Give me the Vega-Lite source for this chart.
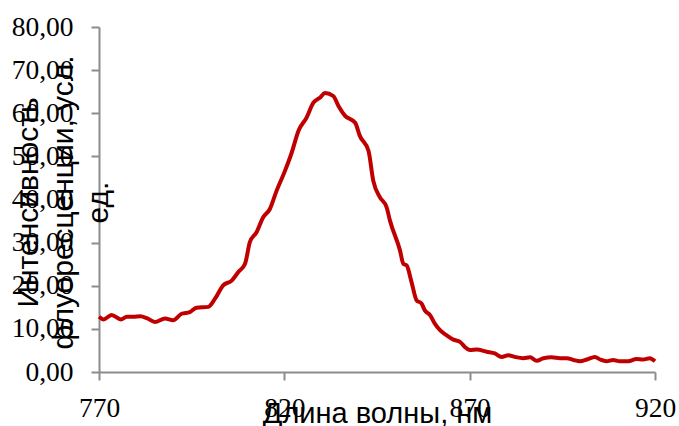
{
  "$schema": "https://vega.github.io/schema/vega-lite/v6.json",
  "width": 556,
  "height": 345,
  "autosize": {"type": "none"},
  "padding": {"left": 99, "top": 27, "right": 24, "bottom": 54},
  "background": "white",
  "config": {"view": {"stroke": null}},
  "data": {"values": [
    {"wl": 770, "int": 12.8}, {"wl": 771.2, "int": 12.2}, {"wl": 773.4, "int": 13.2}, {"wl": 775.9, "int": 12.2},
    {"wl": 777.5, "int": 12.8}, {"wl": 779.3, "int": 12.8}, {"wl": 781.1, "int": 12.9}, {"wl": 782.9, "int": 12.5},
    {"wl": 785.1, "int": 11.6}, {"wl": 787.8, "int": 12.4}, {"wl": 790, "int": 12.0}, {"wl": 792.3, "int": 13.5},
    {"wl": 794.5, "int": 13.9}, {"wl": 796.3, "int": 14.9}, {"wl": 799.5, "int": 15.1}, {"wl": 801.3, "int": 17.0},
    {"wl": 803.5, "int": 20.1}, {"wl": 805.8, "int": 21.2}, {"wl": 807.6, "int": 23.2}, {"wl": 809.4, "int": 25.1},
    {"wl": 810.7, "int": 30.1}, {"wl": 812.5, "int": 32.4}, {"wl": 814.3, "int": 35.9}, {"wl": 816.1, "int": 37.8},
    {"wl": 817.9, "int": 42.0}, {"wl": 820.2, "int": 46.7}, {"wl": 822, "int": 50.9}, {"wl": 823.8, "int": 55.9},
    {"wl": 826, "int": 59.0}, {"wl": 827.8, "int": 62.4}, {"wl": 829.6, "int": 63.6}, {"wl": 831, "int": 64.7},
    {"wl": 833.2, "int": 64.0}, {"wl": 834.6, "int": 61.7}, {"wl": 836.4, "int": 59.4}, {"wl": 839.1, "int": 57.8},
    {"wl": 840.4, "int": 54.7}, {"wl": 842.7, "int": 51.3}, {"wl": 844.0, "int": 44.3}, {"wl": 845.8, "int": 40.5},
    {"wl": 847.6, "int": 38.2}, {"wl": 848.5, "int": 35.1}, {"wl": 851.2, "int": 28.2}, {"wl": 852.1, "int": 25.1},
    {"wl": 853.0, "int": 24.7}, {"wl": 854.3, "int": 20.9}, {"wl": 855.7, "int": 16.6}, {"wl": 857.0, "int": 15.9},
    {"wl": 857.9, "int": 14.3}, {"wl": 859.3, "int": 13.2}, {"wl": 860.6, "int": 11.2}, {"wl": 862.0, "int": 9.7},
    {"wl": 863.8, "int": 8.5}, {"wl": 865.6, "int": 7.5}, {"wl": 867.4, "int": 7.0}, {"wl": 868.7, "int": 5.8},
    {"wl": 870.1, "int": 5.1}, {"wl": 871.9, "int": 5.2}, {"wl": 874.6, "int": 4.7}, {"wl": 876.8, "int": 4.3},
    {"wl": 878.6, "int": 3.5}, {"wl": 880.4, "int": 3.9}, {"wl": 882.2, "int": 3.5}, {"wl": 884.5, "int": 3.2},
    {"wl": 886.3, "int": 3.4}, {"wl": 888.1, "int": 2.6}, {"wl": 889.9, "int": 3.2}, {"wl": 892.1, "int": 3.4},
    {"wl": 894.4, "int": 3.2}, {"wl": 896.2, "int": 3.2}, {"wl": 898.0, "int": 2.8}, {"wl": 899.8, "int": 2.5},
    {"wl": 901.6, "int": 2.9}, {"wl": 903.8, "int": 3.5}, {"wl": 905.2, "int": 2.9}, {"wl": 906.9, "int": 2.5},
    {"wl": 908.7, "int": 2.8}, {"wl": 910.5, "int": 2.5}, {"wl": 912.8, "int": 2.5}, {"wl": 915.0, "int": 3.0},
    {"wl": 916.8, "int": 2.9}, {"wl": 918.6, "int": 3.2}, {"wl": 920, "int": 2.5}
  ]},
  "mark": {"type": "line", "color": "#C00000", "strokeWidth": 4, "interpolate": "monotone"},
  "encoding": {
    "x": {
      "field": "wl", "type": "quantitative",
      "scale": {"domain": [770, 920], "nice": false, "zero": false},
      "axis": {
        "values": [770, 820, 870, 920],
        "grid": false,
        "domainColor": "#8c8c8c", "domainWidth": 2,
        "tickColor": "#8c8c8c", "tickWidth": 2, "tickSize": 8,
        "labelFont": "Liberation Serif", "labelFontSize": 27.5, "labelColor": "#000000",
        "labelPadding": 14, "labelFlush": false,
        "title": "Длина волны, нм",
        "titleFont": "Liberation Sans", "titleFontSize": 29, "titleFontWeight": "normal", "titleColor": "#000000",
        "titleBaseline": "alphabetic", "titleY": 50, "titleX": 278, "titleAlign": "center"
      }
    },
    "y": {
      "field": "int", "type": "quantitative",
      "scale": {"domain": [0, 80], "nice": false},
      "axis": {
        "values": [0, 10, 20, 30, 40, 50, 60, 70, 80],
        "grid": false,
        "labelExpr": "replace(format(datum.value, '.2f'), '.', ',')",
        "domainColor": "#8c8c8c", "domainWidth": 2,
        "tickColor": "#8c8c8c", "tickWidth": 2, "tickSize": 8,
        "labelFont": "Liberation Serif", "labelFontSize": 27.5, "labelColor": "#000000",
        "labelPadding": 18, "labelFlush": false,
        "title": ["Интенсивность", "флуоресценции, усл.", "ед."],
        "titleFont": "Liberation Sans", "titleFontSize": 30, "titleFontWeight": "normal", "titleColor": "#000000",
        "titleAngle": 270, "titleAlign": "center", "titleBaseline": "alphabetic",
        "titleLineHeight": 35, "titleX": -62, "titleY": 175
      }
    }
  }
}
